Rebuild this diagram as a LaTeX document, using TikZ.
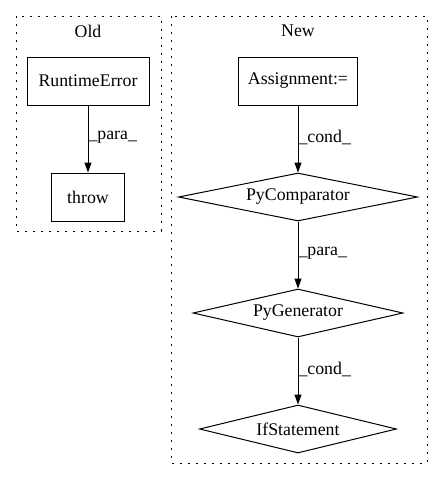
\documentclass[tikz,border=0pt]{standalone}
\usepackage{fontspec}
\setmainfont{Liberation Serif}
\usetikzlibrary{shapes.geometric,arrows.meta}
\begin{document}
\begin{tikzpicture}[x=1pt,y=-1pt,
  every node/.style={font=\fontsize{17.8pt}{20pt}\selectfont},
  cluster/.style={draw, line width=1pt, dash pattern=on 1.6pt off 6.4pt},
  boxnode/.style={draw, line width=1pt, rectangle, inner sep=0pt},
  dnode/.style={draw, line width=1pt, diamond, aspect=5, inner sep=0pt, minimum height=48pt},
  edge/.style={draw, line width=1pt, -{Triangle[length=10pt,width=7pt]}},
  elabel/.style={anchor=west, inner sep=0pt}
]
\useasboundingbox (0,0) rectangle (443,480);
% clusters
\draw[cluster] (16,16) rectangle (161,231);
\draw[cluster] (171,16) rectangle (427,463);
\node (oldt) at (88,31) {Old};
\node (newt) at (298,31) {New};
% Old
\node[boxnode, minimum width=122pt, minimum height=48pt] (re) at (88,81) {RuntimeError};
\node[boxnode, minimum width=73pt, minimum height=48pt] (th) at (88,197) {throw};
\draw[edge] (re) -- node[elabel, pos=0.47] {\_para\_} (th);
% New
\node[boxnode, minimum width=119pt, minimum height=48pt] (as) at (298,81) {Assignment:=};
\node[dnode, minimum width=239pt] (pc) at (298,197) {PyComparator};
\node[dnode, minimum width=210pt] (pg) at (298,313) {PyGenerator};
\node[dnode, minimum width=197pt] (ifs) at (298,429) {IfStatement};
\draw[edge] (as) -- node[elabel, pos=0.47] {\_cond\_} (pc);
\draw[edge] (pc) -- node[elabel, pos=0.47] {\_para\_} (pg);
\draw[edge] (pg) -- node[elabel, pos=0.47] {\_cond\_} (ifs);
\end{tikzpicture}
\end{document}
